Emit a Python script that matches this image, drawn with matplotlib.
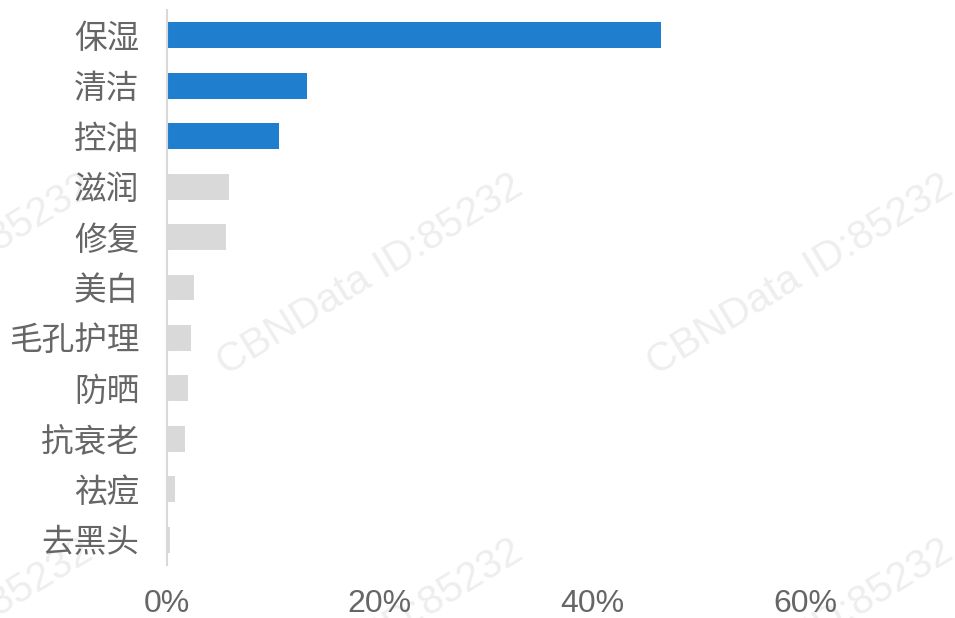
import matplotlib
matplotlib.use("Agg")
import matplotlib.pyplot as plt
from matplotlib.ticker import FixedLocator, FuncFormatter

plt.rcParams['font.family'] = ['Noto Sans CJK SC', 'Liberation Sans', 'DejaVu Sans']

categories = ["保湿", "清洁", "控油", "滋润", "修复", "美白", "毛孔护理", "防晒", "抗衰老", "祛痘", "去黑头"]
values = [46.4, 13.2, 10.5, 5.8, 5.5, 2.5, 2.25, 2.0, 1.7, 0.75, 0.3]
highlight = [True, True, True, False, False, False, False, False, False, False, False]
x_ticks = [0, 20, 40, 60]

BLUE = "#1F7ECE"
GRAY = "#D9D9D9"
TEXT = "#666666"

fig = plt.figure(figsize=(9.55, 6.18), dpi=100)
fig.patch.set_facecolor("white")

# watermarks (ends of text anchored)
wm_ends = [(95, 193), (525, 193), (955, 193), (95, 558), (525, 558), (955, 558)]
for (px, py) in wm_ends:
    fig.text(px / 955, 1 - py / 618, "CBNData ID:85232", rotation=31.5,
             rotation_mode="anchor", ha="right", va="baseline",
             fontsize=29.5, color="#EEEEEE", family=["Liberation Sans"], zorder=-5)

ax = fig.add_axes([167 / 955, 1 - 565 / 618, 745 / 955, 555 / 618])
ax.patch.set_alpha(0)

ypos = list(range(len(categories)))
colors = [BLUE if h else GRAY for h in highlight]
ax.barh(ypos, values, height=0.515, color=colors, zorder=2)

ax.set_ylim(len(categories) - 0.5, -0.5)
ax.set_xlim(0, 70)
ax.set_yticks(ypos)
ax.set_yticklabels(categories)
ax.xaxis.set_major_locator(FixedLocator(x_ticks))
ax.xaxis.set_major_formatter(FuncFormatter(lambda v, p: f"{int(v)}%"))

for s in ["top", "right", "bottom"]:
    ax.spines[s].set_visible(False)
ax.spines["left"].set_color(GRAY)
ax.spines["left"].set_linewidth(1.5)
ax.spines["left"].set_zorder(3)

ax.tick_params(axis="y", length=0, pad=20, labelsize=23.5, labelcolor=TEXT)
ax.tick_params(axis="x", length=0, pad=17, labelsize=23, labelcolor=TEXT)
for lbl in ax.get_xticklabels():
    lbl.set_family(["Liberation Sans"])

fig.savefig("out.png", dpi=100, facecolor="white")
